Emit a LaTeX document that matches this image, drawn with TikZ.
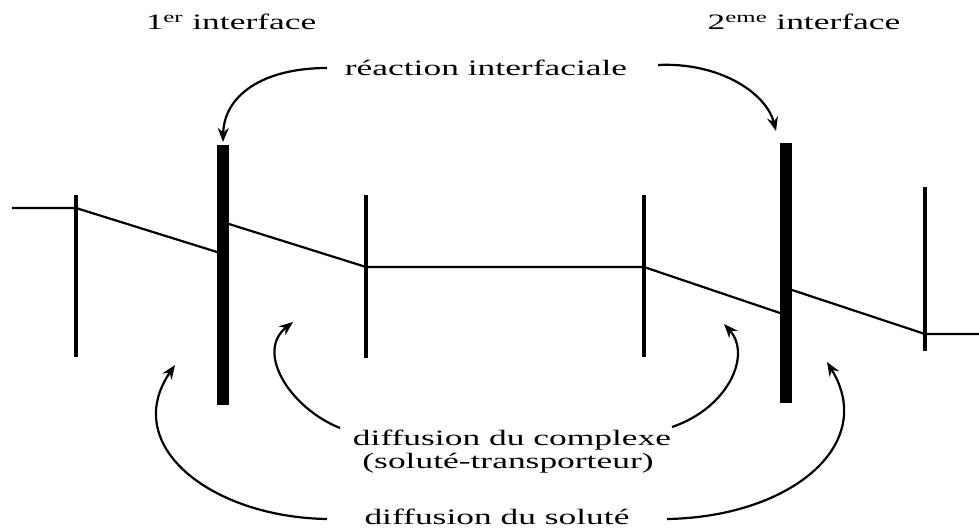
\documentclass[tikz,border=0pt]{standalone}
\usepackage{fontspec}
\setmainfont{Liberation Serif}
\usetikzlibrary{arrows.meta}
\newcommand{\wtxt}[1]{\scalebox{1.61}[1]{#1}}
\tikzset{
  lbl/.style={inner sep=0pt, font=\fontsize{22}{25}\selectfont},
  thin/.style={line width=3.2pt},
  prof/.style={line width=2.2pt, line join=round},
  bar/.style={fill=black, draw=none},
  arr/.style={line width=2.2pt, -{Stealth[length=14pt,width=11pt]}},
}
\begin{document}
\begin{tikzpicture}[x=1pt,y=-1pt]
\useasboundingbox (0,0) rectangle (979,531);
% thin vertical lines
\draw[thin] (76,195) -- (76,357);
\draw[thin] (366,195) -- (366,358);
\draw[thin] (644,195) -- (644,357);
\draw[thin] (925,187) -- (925,351);
% thick bars (interfaces)
\fill[bar] (217,145) rectangle (229,405);
\fill[bar] (780,143) rectangle (792,403);
% concentration profile
\coordinate (p0) at (12,208);
\coordinate (p1) at (76,208);
\coordinate (p2) at (217,252);
\coordinate (p3) at (229,224);
\coordinate (p4) at (366,267);
\coordinate (p5) at (644,267);
\coordinate (p6) at (780,313);
\coordinate (p7) at (792,290);
\coordinate (p8) at (925,334);
\coordinate (p9) at (979,334);
\draw[prof] (p0) -- (p1) -- (p2);
\draw[prof] (p3) -- (p4) -- (p5) -- (p6);
\draw[prof] (p7) -- (p8) -- (p9);
% labels
\node[lbl] (i1) at (231,22) {\wtxt{1\textsuperscript{er} interface}};
\node[lbl] (i2) at (804,22) {\wtxt{2\textsuperscript{eme} interface}};
\node[lbl] (rx) at (486,68) {\wtxt{réaction interfaciale}};
\node[lbl] (dc) at (512,440) {\wtxt{diffusion du complexe}};
\node[lbl] (dt) at (508,463) {\wtxt{(soluté-transporteur)}};
\node[lbl] (ds) at (497,517) {\wtxt{diffusion du soluté}};
% arrow ends
\coordinate (rxw) at (327,68);
\coordinate (rxe) at (658,65);
\coordinate (dcw) at (340,428);
\coordinate (dce) at (672,427);
\coordinate (dsw) at (327,519);
\coordinate (dse) at (667,519);
\coordinate (t1) at (223,142);
\coordinate (t2) at (776,131);
\coordinate (c1) at (293,322);
\coordinate (c2) at (724,324);
\coordinate (s1) at (175,365);
\coordinate (s2) at (827,362);
% arrows
\draw[arr] (rxw) .. controls (262,68) and (224,96) .. (t1);
\draw[arr] (rxe) .. controls (718,62) and (766,92) .. (t2);
\draw[arr] (dcw) .. controls (290,408) and (255,352) .. (c1);
\draw[arr] (dce) .. controls (728,408) and (752,355) .. (c2);
\draw[arr] (dsw) .. controls (210,517) and (120,445) .. (s1);
\draw[arr] (dse) .. controls (790,517) and (878,445) .. (s2);
\end{tikzpicture}
\end{document}
